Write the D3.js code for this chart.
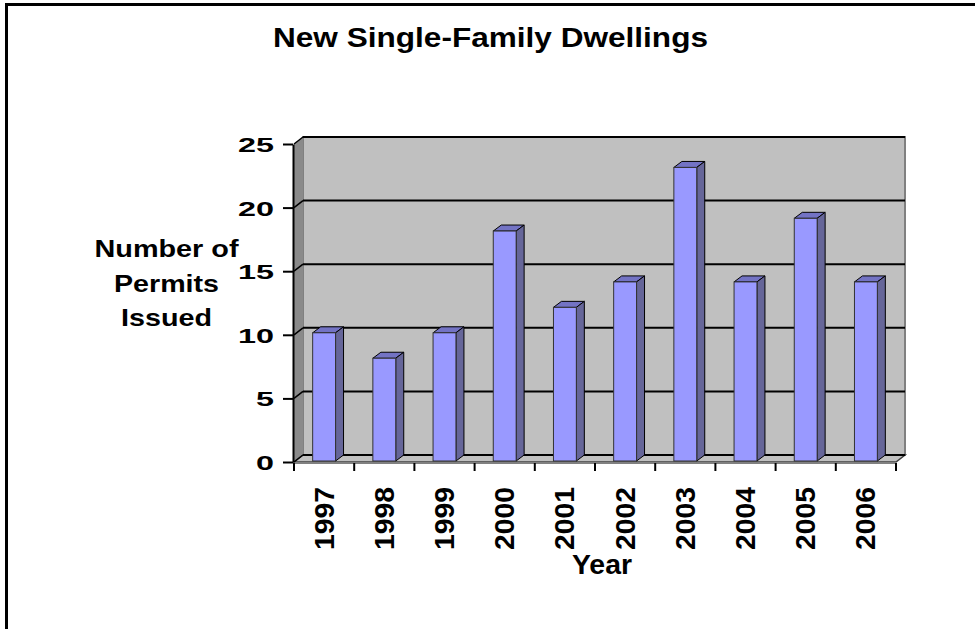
<!DOCTYPE html>
<html>
	<head>
		<meta charset="utf-8">
		<title>New Single-Family Dwellings</title>
		<script src="https://d3js.org/d3.v7.min.js"></script>
		<style>
			body { margin: 0; background: #fff; }
			text { font-family: "Liberation Sans", Arial, sans-serif; font-weight: bold; fill: #000; }
		</style>
	</head>
	<body>
		<script>
			var years = ["1997", "1998", "1999", "2000", "2001", "2002", "2003", "2004", "2005", "2006"];
			var permits = [10, 8, 10, 18, 12, 14, 23, 14, 19, 14];
			var yTicks = [0, 5, 10, 15, 20, 25];
			var titleLines = ["Number of", "Permits", "Issued"];

			var w = 975;
			var h = 629;
			// depth of the 3d box (back wall offset)
			var dx = 9, dy = -7;
			// bar depth
			var bdx = 8, bdy = -6;

			var svg = d3.select("body")
						.append("svg")
						.attr("width", w)
						.attr("height", h);

			// outer frame (only top and left visible)
			svg.append("path")
				.attr("d", "M6.5," + h + "V4.5H" + w)
				.attr("fill", "none")
				.attr("stroke", "#000")
				.attr("stroke-width", 3);

			var xScale = d3.scaleBand()
				.domain(years)
				.range([294, 896])
				.paddingInner(0.62)
				.paddingOuter(0.31);

			var yScale = d3.scaleLinear()
				.domain([0, 25])
				.range([462, 144]);

			var x0 = 294, x1 = 896;
			var yb = yScale(0), yt = yScale(25);

			// back wall
			svg.append("rect")
				.attr("x", x0 + dx)
				.attr("y", yt + dy)
				.attr("width", x1 - x0)
				.attr("height", yb - yt)
				.attr("fill", "#c0c0c0")
				.attr("stroke", "#808080")
				.attr("stroke-width", 2);

			// left wall
			svg.append("path")
				.attr("d", "M" + x0 + "," + yt + "L" + (x0 + dx) + "," + (yt + dy) + "L" + (x0 + dx) + "," + (yb + dy) + "L" + x0 + "," + yb + "Z")
				.attr("fill", "#8a8a8a");

			// floor
			svg.append("path")
				.attr("d", "M" + x0 + "," + yb + "L" + (x0 + dx) + "," + (yb + dy) + "L" + (x1 + dx) + "," + (yb + dy) + "L" + x1 + "," + yb + "Z")
				.attr("fill", "#c0c0c0")
				.attr("stroke", "#404040")
				.attr("stroke-width", 1.5);
			svg.append("rect")
				.attr("x", x0)
				.attr("y", yb)
				.attr("width", x1 - x0)
				.attr("height", 2)
				.attr("fill", "#808080");

			// gridlines on back wall and left wall
			var grid = svg.append("g");
			grid.selectAll("line.back")
				.data(yTicks)
				.enter()
				.append("line")
				.attr("class", "back")
				.attr("x1", x0 + dx)
				.attr("x2", x1 + dx)
				.attr("y1", function(d) { return yScale(d) + dy; })
				.attr("y2", function(d) { return yScale(d) + dy; })
				.attr("stroke", "#000")
				.attr("stroke-width", 2);
			grid.selectAll("line.side")
				.data(yTicks)
				.enter()
				.append("line")
				.attr("class", "side")
				.attr("x1", x0)
				.attr("x2", x0 + dx)
				.attr("y1", function(d) { return yScale(d); })
				.attr("y2", function(d) { return yScale(d) + dy; })
				.attr("stroke", "#000")
				.attr("stroke-width", 1.5);

			// bars
			var bars = svg.selectAll("g.bar")
				.data(years)
				.enter()
				.append("g")
				.attr("class", "bar");

			bars.append("path")
				.attr("d", function(d, i) {
					var l = xScale(d), r = l + xScale.bandwidth();
					var top = yScale(permits[i]) - 2;
					return "M" + l + "," + top + "L" + (l + bdx) + "," + (top + bdy) + "L" + (r + bdx) + "," + (top + bdy) + "L" + r + "," + top + "Z";
				})
				.attr("fill", "#7373c4")
				.attr("stroke", "#000")
				.attr("stroke-width", 1);

			bars.append("path")
				.attr("d", function(d, i) {
					var r = xScale(d) + xScale.bandwidth();
					var top = yScale(permits[i]) - 2;
					var bot = yb - 1;
					return "M" + r + "," + top + "L" + (r + bdx) + "," + (top + bdy) + "L" + (r + bdx) + "," + (bot + bdy) + "L" + r + "," + bot + "Z";
				})
				.attr("fill", "#666699")
				.attr("stroke", "#000")
				.attr("stroke-width", 1);

			bars.append("rect")
				.attr("x", function(d) { return xScale(d); })
				.attr("y", function(d, i) { return yScale(permits[i]) - 2; })
				.attr("width", xScale.bandwidth())
				.attr("height", function(d, i) { return yb - 1 - (yScale(permits[i]) - 2); })
				.attr("fill", "#9999ff")
				.attr("stroke", "#333")
				.attr("stroke-width", 1);

			// y axis
			var yAxis = d3.axisLeft(yScale)
				.tickValues(yTicks)
				.tickSize(10)
				.tickSizeOuter(0)
				.tickPadding(9);

			var yAxisG = svg.append("g")
				.attr("transform", "translate(293,0)")
				.call(yAxis);
			yAxisG.select(".domain").attr("stroke", "#000").attr("stroke-width", 2);
			yAxisG.selectAll(".tick line").attr("stroke", "#000").attr("stroke-width", 2);
			yAxisG.selectAll(".tick text")
				.attr("font-family", null)
				.attr("font-size", null)
				.style("font-size", "21px")
				.attr("dy", "0.36em")
				.attr("textLength", function(d) { return String(d).length * 18; })
				.attr("lengthAdjust", "spacingAndGlyphs");

			// x ticks at category boundaries
			var step = xScale.step();
			svg.selectAll("line.xtick")
				.data(d3.range(years.length + 1))
				.enter()
				.append("line")
				.attr("class", "xtick")
				.attr("x1", function(i) { return x0 + i * step; })
				.attr("x2", function(i) { return x0 + i * step; })
				.attr("y1", yb + 1)
				.attr("y2", yb + 9)
				.attr("stroke", "#000")
				.attr("stroke-width", 2);

			// x labels
			svg.selectAll("text.xlab")
				.data(years)
				.enter()
				.append("text")
				.attr("class", "xlab")
				.attr("transform", function(d) {
					var cx = xScale(d) + xScale.bandwidth() / 2;
					return "translate(" + (cx + 9.5) + ",487) rotate(-90)";
				})
				.attr("text-anchor", "end")
				.style("font-size", "27px")
				.attr("textLength", 63)
				.attr("lengthAdjust", "spacingAndGlyphs")
				.text(function(d) { return d; });

			// title
			svg.append("text")
				.attr("x", 490.5)
				.attr("y", 47)
				.attr("text-anchor", "middle")
				.style("font-size", "27px")
				.attr("textLength", 435)
				.attr("lengthAdjust", "spacingAndGlyphs")
				.text("New Single-Family Dwellings");

			// y title
			var yTitleLen = [144, 105, 91];
			svg.selectAll("text.ytitle")
				.data(titleLines)
				.enter()
				.append("text")
				.attr("class", "ytitle")
				.attr("x", 166.5)
				.attr("y", function(d, i) { return 257 + i * 34.5; })
				.attr("text-anchor", "middle")
				.style("font-size", "24px")
				.attr("textLength", function(d, i) { return yTitleLen[i]; })
				.attr("lengthAdjust", "spacingAndGlyphs")
				.text(function(d) { return d; });

			// x title
			svg.append("text")
				.attr("x", 602)
				.attr("y", 574)
				.attr("text-anchor", "middle")
				.style("font-size", "28px")
				.attr("textLength", 60)
				.attr("lengthAdjust", "spacingAndGlyphs")
				.text("Year");
		</script>
	</body>
</html>
